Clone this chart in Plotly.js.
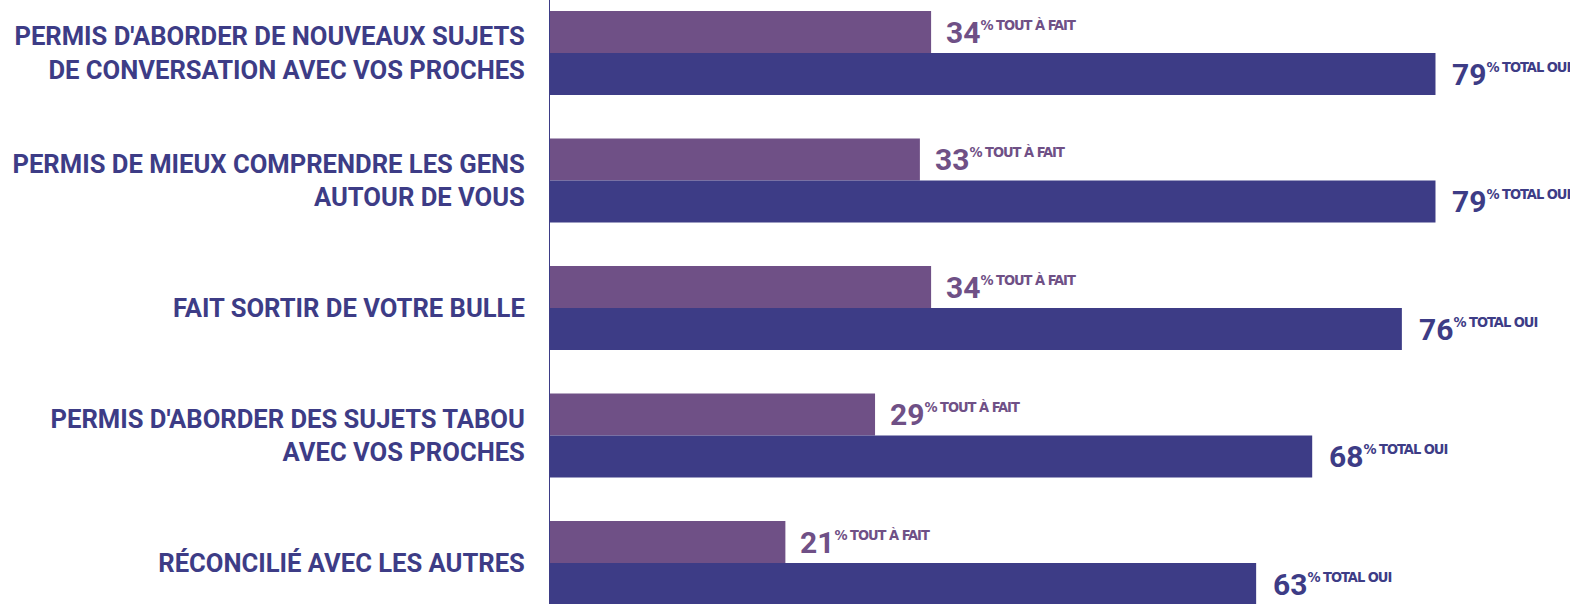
<!DOCTYPE html>
<html>
<head>
<meta charset="utf-8">
<script src="https://cdn.plot.ly/plotly-3.0.1.min.js"></script>
<style>html,body{margin:0;padding:0;background:#fff;}#chart{width:1570px;height:604px;}</style>
</head>
<body>
<div id="chart"></div>
<script>
const categories = [
  "PERMIS D'ABORDER DE NOUVEAUX SUJETS<br>DE CONVERSATION AVEC VOS PROCHES",
  "PERMIS DE MIEUX COMPRENDRE LES GENS<br>AUTOUR DE VOUS",
  "FAIT SORTIR DE VOTRE BULLE",
  "PERMIS D'ABORDER DES SUJETS TABOU<br>AVEC VOS PROCHES",
  "RÉCONCILIÉ AVEC LES AUTRES"
];
const toutAFait = [34, 33, 34, 29, 21];
const totalOui = [79, 79, 76, 68, 63];
const labelTout = "TOUT À FAIT";
const labelTotal = "TOTAL OUI";

const PURPLE = '#6f5086';
const BLUE = '#3d3c86';
const FONT = 'Roboto, sans-serif';
const SMALLFONT = 'DejaVu Sans Condensed, sans-serif';
const pos = categories.map((c, i) => i);
const OFF = 0.1647, W = 0.3294;

const traces = [
  {type:'bar', orientation:'h', x: toutAFait, y: pos.map(p => p - OFF), width: W,
   marker:{color: PURPLE}, hoverinfo:'skip', showlegend:false},
  {type:'bar', orientation:'h', x: totalOui, y: pos.map(p => p + OFF), width: W,
   marker:{color: BLUE}, hoverinfo:'skip', showlegend:false}
];

function label(v, suffix){
  return v + '<sup><span style="font-size:14.5px;letter-spacing:-1px;font-family:' + SMALLFONT + '">% ' + suffix + '</span></sup>';
}
const annotations = [];
pos.forEach((p, i) => {
  annotations.push({x: toutAFait[i], y: p - OFF, xref:'x', yref:'y', xanchor:'left', yanchor:'middle',
    xshift: 13, showarrow:false, text: label(toutAFait[i], labelTout),
    font:{family: FONT, size: 30, color: PURPLE, weight: 700}});
  annotations.push({x: totalOui[i], y: p + OFF, xref:'x', yref:'y', xanchor:'left', yanchor:'middle',
    xshift: 15, showarrow:false, text: label(totalOui[i], labelTotal),
    font:{family: FONT, size: 30, color: BLUE, weight: 700}});
});

const layout = {
  width: 1570, height: 604,
  margin: {l: 550, r: 0, t: 0, b: 0},
  paper_bgcolor: '#fff', plot_bgcolor: '#fff',
  barmode: 'overlay',
  xaxis: {range: [0, 91.0], showgrid:false, zeroline:false, showticklabels:false, showline:false, fixedrange:true},
  yaxis: {range: [4.3216, -0.4157], tickvals: pos, ticktext: categories, showgrid:false, zeroline:false,
    showline:true, linecolor: BLUE, linewidth: 1, ticks:'', ticklabelstandoff: 19,
    tickfont:{family: FONT, size: 25.6, color: BLUE, weight: 700}, fixedrange:true},
  annotations: annotations
};
Plotly.newPlot('chart', traces, layout, {staticPlot:true});
</script>
</body>
</html>
